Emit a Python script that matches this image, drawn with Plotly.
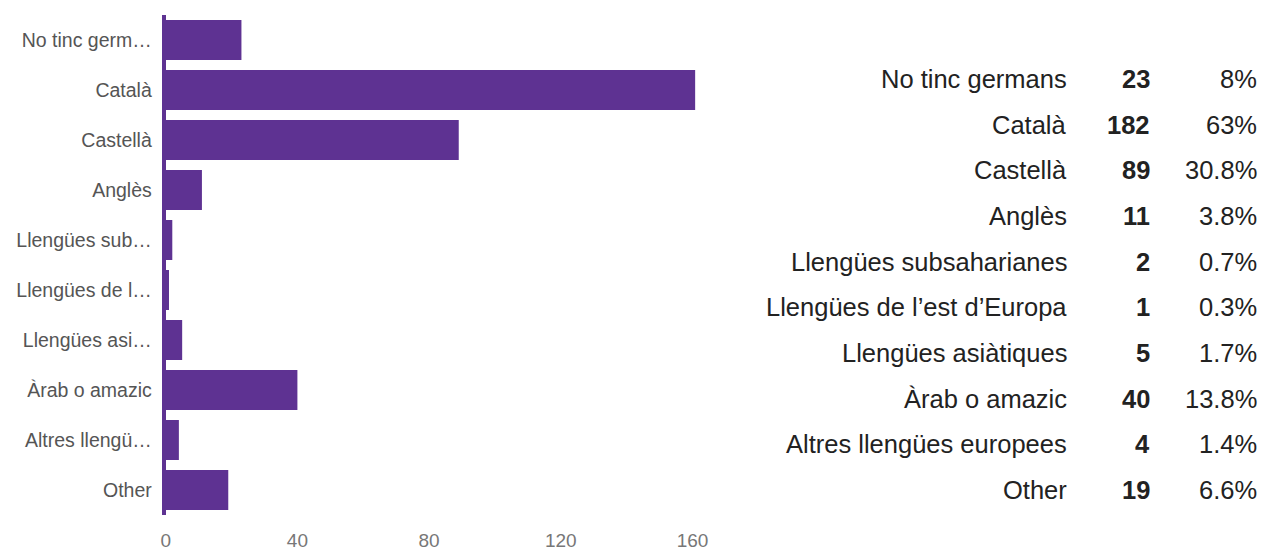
import plotly.graph_objects as go

# Survey answers: language spoken with siblings
categories = [
    "No tinc germans", "Català", "Castellà", "Anglès",
    "Llengües subsaharianes", "Llengües de l’est d’Europa",
    "Llengües asiàtiques", "Àrab o amazic",
    "Altres llengües europees", "Other",
]
axis_labels = [
    "No tinc germ…", "Català", "Castellà", "Anglès",
    "Llengües sub…", "Llengües de l…", "Llengües asi…",
    "Àrab o amazic", "Altres llengü…", "Other",
]
counts = [23, 182, 89, 11, 2, 1, 5, 40, 4, 19]
percents = ["8%", "63%", "30.8%", "3.8%", "0.7%", "0.3%", "1.7%", "13.8%", "1.4%", "6.6%"]
x_ticks = [0, 40, 80, 120, 160]

W, H = 1279, 554
PURPLE = "#5e3292"
FONT = "Liberation Sans, Arial, sans-serif"

# right edges (px) of the three summary-table columns
COL_LABEL, COL_COUNT, COL_PCT = 1079, 1163, 1272

fig = go.Figure()

fig.add_trace(go.Bar(
    x=counts, y=categories, orientation="h",
    marker=dict(color=PURPLE, line=dict(width=0)),
    xaxis="x", yaxis="y", hoverinfo="x+y",
))

# invisible helper trace so the summary table has its own row axis
fig.add_trace(go.Scatter(
    x=[0] * len(categories), y=categories, mode="markers",
    marker=dict(opacity=0), xaxis="x2", yaxis="y2",
    hoverinfo="skip", showlegend=False,
))

annotations = []
for cat, n, pct in zip(categories, counts, percents):
    for xpos, txt in ((COL_LABEL, cat), (COL_COUNT, f"<b>{n}</b>"), (COL_PCT, pct)):
        annotations.append(dict(
            x=xpos / W, y=cat, xref="paper", yref="y2", text=txt,
            xanchor="right", yanchor="middle", showarrow=False,
            font=dict(family=FONT, size=25.5, color="#222222"),
        ))

fig.update_layout(
    width=W, height=H, autosize=False,
    margin=dict(l=0, r=0, t=0, b=0),
    paper_bgcolor="white", plot_bgcolor="white",
    showlegend=False, bargap=0.2,
    font=dict(family=FONT),
    xaxis=dict(
        domain=[163 / W, 700 / W], range=[0, 160.8],
        tickvals=x_ticks, ticktext=[str(v) for v in x_ticks],
        showgrid=False, zeroline=False, showline=False,
        tickfont=dict(size=19, color="#777777"),
        ticks="", ticklabelstandoff=12, fixedrange=True,
    ),
    yaxis=dict(
        domain=[1 - 515 / H, 1 - 15 / H],
        categoryorder="array", categoryarray=categories,
        tickvals=categories, ticktext=axis_labels,
        autorange="reversed", showgrid=False, zeroline=False,
        showline=True, linecolor=PURPLE, linewidth=4,
        tickfont=dict(size=19.5, color="#555555"),
        ticks="", ticklabelstandoff=6, fixedrange=True,
    ),
    xaxis2=dict(domain=[0.6, 1], visible=False, anchor="y2", range=[-1, 1]),
    yaxis2=dict(
        domain=[1 - 517 / H, 1 - 52 / H], anchor="x2",
        categoryorder="array", categoryarray=categories,
        autorange="reversed", visible=False,
    ),
    annotations=annotations,
)

fig.write_html("out.html")
